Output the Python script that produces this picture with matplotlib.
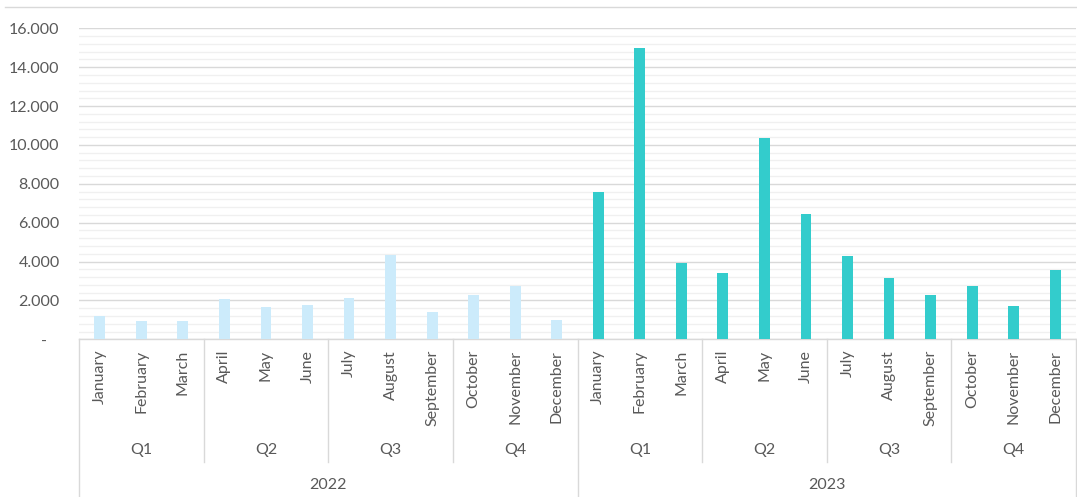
import matplotlib.pyplot as plt
import numpy as np
from matplotlib.lines import Line2D

# Data
months = ['January', 'February', 'March', 'April', 'May', 'June',
          'July', 'August', 'September', 'October', 'November', 'December']
quarters = ['Q1', 'Q2', 'Q3', 'Q4']
years = ['2022', '2023']
values_2022 = [1200, 950, 950, 2050, 1650, 1750, 2100, 4350, 1400, 2300, 2750, 1000]
values_2023 = [7600, 15000, 3950, 3400, 10350, 6450, 4300, 3150, 2300, 2750, 1700, 3550]

color_2022 = '#CCEBFB'
color_2023 = '#33CCCC'
text_color = '#595959'
line_color = '#D9D9D9'

plt.rcParams['font.family'] = ['Lato', 'DejaVu Sans']

fig = plt.figure(figsize=(10.77, 4.97), dpi=100)
ax = fig.add_axes([79 / 1077, 1 - 339.3 / 497, (1076 - 79) / 1077, 311 / 497])

x22 = np.arange(len(values_2022))
x23 = np.arange(len(values_2023)) + len(values_2022)
bar_width = 0.26
ax.bar(x22, values_2022, bar_width, color=color_2022, zorder=3)
ax.bar(x23, values_2023, bar_width, color=color_2023, zorder=3)

ax.set_xlim(-0.5, 23.5)
ax.set_ylim(0, 16000)

# y axis: major every 2000, minor every 400
ax.set_yticks(np.arange(0, 16001, 2000))
ax.set_yticklabels(['-   '] + [f'{v:,}'.replace(',', '.') for v in range(2000, 16001, 2000)])
ax.set_yticks(np.arange(0, 16001, 400), minor=True)
ax.grid(axis='y', which='major', color=line_color, linewidth=1.0, zorder=0)
ax.grid(axis='y', which='minor', color='#F0F0F0', linewidth=1.0, zorder=0)
ax.tick_params(axis='y', which='both', length=0, pad=14, labelsize=11.5, labelcolor=text_color)
ax.set_xticks([])

for side in ['left', 'right', 'top']:
    ax.spines[side].set_visible(False)
ax.spines['bottom'].set_color(line_color)
ax.spines['bottom'].set_linewidth(1.0)

# multi-level category axis
trans = ax.get_xaxis_transform()
all_x = np.concatenate([x22, x23])
all_months = months + months
for xi, m in zip(all_x, all_months):
    ax.text(xi, -0.034, m, transform=trans, rotation=90, ha='center', va='top',
            fontsize=11.5, color=text_color)

for k in range(8):
    centre = k * 3 + 1
    ax.text(centre, -0.356, quarters[k % 4], transform=trans, ha='center', va='center',
            fontsize=11.5, color=text_color)
for k, yr in enumerate(years):
    ax.text(k * 12 + 5.5, -0.468, yr, transform=trans, ha='center', va='center',
            fontsize=11.5, color=text_color)

for b in np.arange(-0.5, 24, 3):
    bottom = -0.51 if (b + 0.5) % 12 == 0 else -0.394
    ax.add_line(Line2D([b, b], [0, bottom], transform=trans, color=line_color,
                       linewidth=1.0, clip_on=False))

# chart border at the top
fig.add_artist(Line2D([5 / 1077, 1], [1 - 7.3 / 497] * 2, color=line_color, linewidth=1.0))

fig.savefig('out.png', dpi=100)
